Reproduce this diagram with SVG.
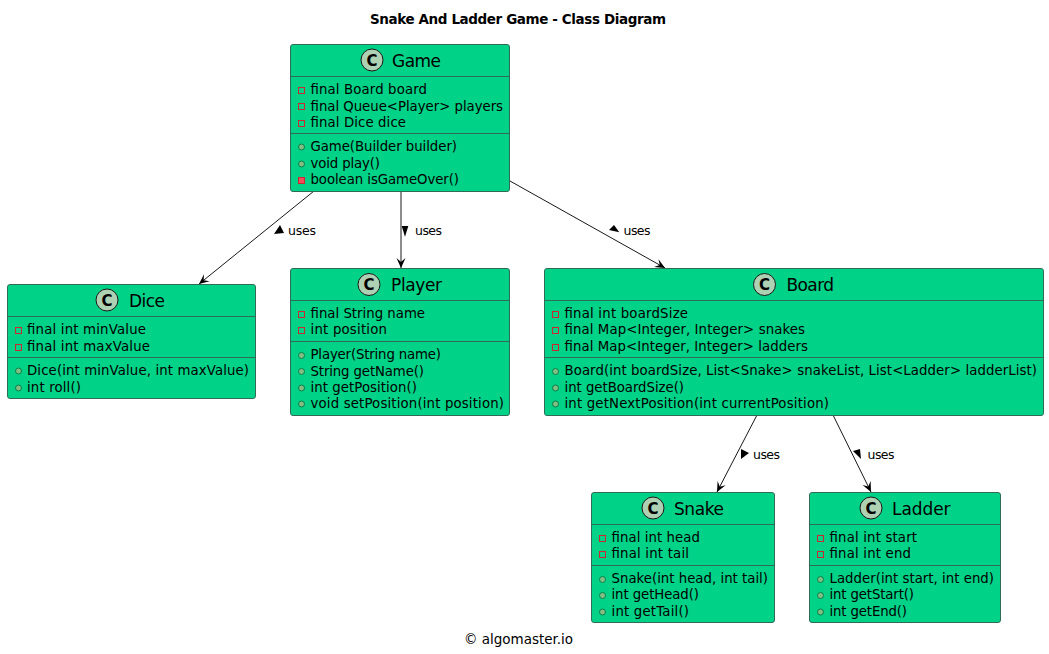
<svg xmlns="http://www.w3.org/2000/svg" width="1049" height="654" viewBox="0 0 1049 654">
<style>
text{font-family:"DejaVu Sans",sans-serif;fill:#000}
.box{fill:#00D287;stroke:#2F6B58;stroke-width:1}
.sep{stroke:#2F6B58;stroke-width:1}
.name{font-size:17px}
.m{font-size:13.3px}
.cc{fill:#ADD1B2;stroke:#181818;stroke-width:1}
.c{font-size:15px;font-weight:bold;text-anchor:middle}
.pa{fill:none;stroke:#C82930;stroke-width:1}
.pm{fill:#F24D5C;stroke:#C82930;stroke-width:1}
.pu{fill:#84BE84;stroke:#038048;stroke-width:1}
.line{fill:none;stroke:#181818;stroke-width:1}
.lab{font-size:12.500px}
.title{font-size:13.500px;font-weight:bold}
.foot{font-size:13.500px}
</style>
<defs>
<marker id="open" markerUnits="userSpaceOnUse" viewBox="-12 -6 14 12" refX="0" refY="0" markerWidth="14" markerHeight="12" orient="auto"><path d="M-10,-4.500 L0,0 L-10,4.500 L-6,0 Z" fill="#000"/></marker>
</defs>
<text class="title" x="370" y="24" textLength="296">Snake And Ladder Game - Class Diagram</text>
<g id="connectors">
<path class="line" marker-end="url(#open)" d="M314,191 L199,284"/>
<path class="line" marker-end="url(#open)" d="M401,191 L401,268"/>
<path class="line" marker-end="url(#open)" d="M510,181 L665,268"/>
<path class="line" marker-end="url(#open)" d="M757,415 L717,492"/>
<path class="line" marker-end="url(#open)" d="M833,415 L871,492"/>
<path d="M274,234 L280,225 L284,233 Z" fill="#000"/><text class="lab" x="288" y="235" textLength="28">uses</text>
<path d="M401.700,226 L408.300,226 L405,236.700 Z" fill="#000"/><text class="lab" x="415" y="235" textLength="27">uses</text>
<path d="M609,230 L614,225 L619.300,232.300 Z" fill="#000"/><text class="lab" x="623.500" y="235" textLength="27">uses</text>
<path d="M741,459 L741,449 L749,453 Z" fill="#000"/><text class="lab" x="753" y="459" textLength="27">uses</text>
<path d="M861,459 L853,451 L860,449 Z" fill="#000"/><text class="lab" x="867.500" y="459" textLength="27">uses</text>
</g>
<g id="Game">
<rect class="box" x="290.500" y="44.500" width="219" height="147" rx="2.500"/>
<line class="sep" x1="290.500" x2="509.500" y1="76.500" y2="76.500"/><line class="sep" x1="290.500" x2="509.500" y1="133.500" y2="133.500"/>
<circle class="cc" cx="372" cy="60" r="11"/><text class="c" x="372" y="65.500">C</text><text class="name" x="392" y="67" textLength="49">Game</text>
<rect class="pa" x="298.500" y="87.500" width="6" height="6"/><text class="m" x="310.500" y="94" textLength="116.500">final Board board</text>
<rect class="pa" x="298.500" y="103.500" width="6" height="6"/><text class="m" x="310.500" y="110.700" textLength="192.500">final Queue&lt;Player&gt; players</text>
<rect class="pa" x="298.500" y="120.500" width="6" height="6"/><text class="m" x="310.500" y="126.700" textLength="95.500">final Dice dice</text>
<circle class="pu" cx="301.500" cy="147" r="3"/><text class="m" x="310.500" y="151" textLength="146.500">Game(Builder builder)</text>
<circle class="pu" cx="301.500" cy="164" r="3"/><text class="m" x="310.500" y="168" textLength="69.500">void play()</text>
<rect class="pm" x="298.500" y="177.500" width="6" height="6"/><text class="m" x="310.500" y="184" textLength="148.500">boolean isGameOver()</text>
</g>
<g id="Dice">
<rect class="box" x="7.500" y="284.500" width="248" height="114" rx="2.500"/>
<line class="sep" x1="7.500" x2="255.500" y1="316.500" y2="316.500"/><line class="sep" x1="7.500" x2="255.500" y1="357.500" y2="357.500"/>
<circle class="cc" cx="107" cy="300" r="11"/><text class="c" x="107" y="305.500">C</text><text class="name" x="129" y="307" textLength="36">Dice</text>
<rect class="pa" x="15.500" y="327.500" width="6" height="6"/><text class="m" x="27" y="334" textLength="119">final int minValue</text>
<rect class="pa" x="15.500" y="344.500" width="6" height="6"/><text class="m" x="27" y="351" textLength="123">final int maxValue</text>
<circle class="pu" cx="18.500" cy="371" r="3"/><text class="m" x="27" y="375" textLength="222">Dice(int minValue, int maxValue)</text>
<circle class="pu" cx="18.500" cy="388" r="3"/><text class="m" x="27" y="392" textLength="54">int roll()</text>
</g>
<g id="Player">
<rect class="box" x="290.500" y="268.500" width="219" height="147" rx="2.500"/>
<line class="sep" x1="290.500" x2="509.500" y1="300.500" y2="300.500"/><line class="sep" x1="290.500" x2="509.500" y1="341.500" y2="341.500"/>
<circle class="cc" cx="369" cy="284.500" r="11"/><text class="c" x="369" y="290">C</text><text class="name" x="391" y="291" textLength="51">Player</text>
<rect class="pa" x="298.500" y="311.500" width="6" height="6"/><text class="m" x="310.500" y="318" textLength="114.500">final String name</text>
<rect class="pa" x="298.500" y="327.500" width="6" height="6"/><text class="m" x="310.500" y="334" textLength="76.500">int position</text>
<circle class="pu" cx="301.500" cy="355.500" r="3"/><text class="m" x="310.500" y="359" textLength="130.500">Player(String name)</text>
<circle class="pu" cx="301.500" cy="371.500" r="3"/><text class="m" x="310.500" y="375.500" textLength="113.500">String getName()</text>
<circle class="pu" cx="301.500" cy="388" r="3"/><text class="m" x="310.500" y="392" textLength="106.500">int getPosition()</text>
<circle class="pu" cx="301.500" cy="404" r="3"/><text class="m" x="310.500" y="408" textLength="193.500">void setPosition(int position)</text>
</g>
<g id="Board">
<rect class="box" x="544.500" y="268.500" width="499" height="147" rx="2.500"/>
<line class="sep" x1="544.500" x2="1043.500" y1="300.500" y2="300.500"/><line class="sep" x1="544.500" x2="1043.500" y1="357.500" y2="357.500"/>
<circle class="cc" cx="764.500" cy="284.500" r="11"/><text class="c" x="764.500" y="290">C</text><text class="name" x="786.500" y="291" textLength="47.500">Board</text>
<rect class="pa" x="552.500" y="311.500" width="6" height="6"/><text class="m" x="564.500" y="318" textLength="123.500">final int boardSize</text>
<rect class="pa" x="552.500" y="327.500" width="6" height="6"/><text class="m" x="564.500" y="334" textLength="240.500">final Map&lt;Integer, Integer&gt; snakes</text>
<rect class="pa" x="552.500" y="344.500" width="6" height="6"/><text class="m" x="564.500" y="351" textLength="243.500">final Map&lt;Integer, Integer&gt; ladders</text>
<circle class="pu" cx="555.500" cy="371.500" r="3"/><text class="m" x="564.500" y="375" textLength="472.500">Board(int boardSize, List&lt;Snake&gt; snakeList, List&lt;Ladder&gt; ladderList)</text>
<circle class="pu" cx="555.500" cy="388" r="3"/><text class="m" x="564.500" y="392" textLength="119.500">int getBoardSize()</text>
<circle class="pu" cx="555.500" cy="404" r="3"/><text class="m" x="564.500" y="408" textLength="264.500">int getNextPosition(int currentPosition)</text>
</g>
<g id="Snake">
<rect class="box" x="591.500" y="492.500" width="183" height="130" rx="2.500"/>
<line class="sep" x1="591.500" x2="774.500" y1="524.500" y2="524.500"/><line class="sep" x1="591.500" x2="774.500" y1="565.500" y2="565.500"/>
<circle class="cc" cx="653" cy="508" r="11"/><text class="c" x="653" y="513.500">C</text><text class="name" x="674" y="515" textLength="50">Snake</text>
<rect class="pa" x="599.500" y="535.500" width="6" height="6"/><text class="m" x="611.500" y="542" textLength="88.500">final int head</text>
<rect class="pa" x="599.500" y="551.500" width="6" height="6"/><text class="m" x="611.500" y="558" textLength="77.500">final int tail</text>
<circle class="pu" cx="602.500" cy="579.500" r="3"/><text class="m" x="611.500" y="583" textLength="156.500">Snake(int head, int tail)</text>
<circle class="pu" cx="602.500" cy="595.500" r="3"/><text class="m" x="611.500" y="599" textLength="87.500">int getHead()</text>
<circle class="pu" cx="602.500" cy="612" r="3"/><text class="m" x="611.500" y="616" textLength="77.500">int getTail()</text>
</g>
<g id="Ladder">
<rect class="box" x="809.500" y="492.500" width="191" height="130" rx="2.500"/>
<line class="sep" x1="809.500" x2="1000.500" y1="524.500" y2="524.500"/><line class="sep" x1="809.500" x2="1000.500" y1="565.500" y2="565.500"/>
<circle class="cc" cx="871" cy="508" r="11"/><text class="c" x="871" y="513.500">C</text><text class="name" x="892" y="515" textLength="58.500">Ladder</text>
<rect class="pa" x="817.500" y="535.500" width="6" height="6"/><text class="m" x="829.500" y="542" textLength="87.500">final int start</text>
<rect class="pa" x="817.500" y="551.500" width="6" height="6"/><text class="m" x="829.500" y="558" textLength="81.500">final int end</text>
<circle class="pu" cx="820.500" cy="579.500" r="3"/><text class="m" x="829.500" y="583" textLength="164.500">Ladder(int start, int end)</text>
<circle class="pu" cx="820.500" cy="595.500" r="3"/><text class="m" x="829.500" y="599" textLength="84.500">int getStart()</text>
<circle class="pu" cx="820.500" cy="612" r="3"/><text class="m" x="829.500" y="616" textLength="77.500">int getEnd()</text>
</g>
<text class="foot" x="464" y="644" textLength="109">© algomaster.io</text>
</svg>
